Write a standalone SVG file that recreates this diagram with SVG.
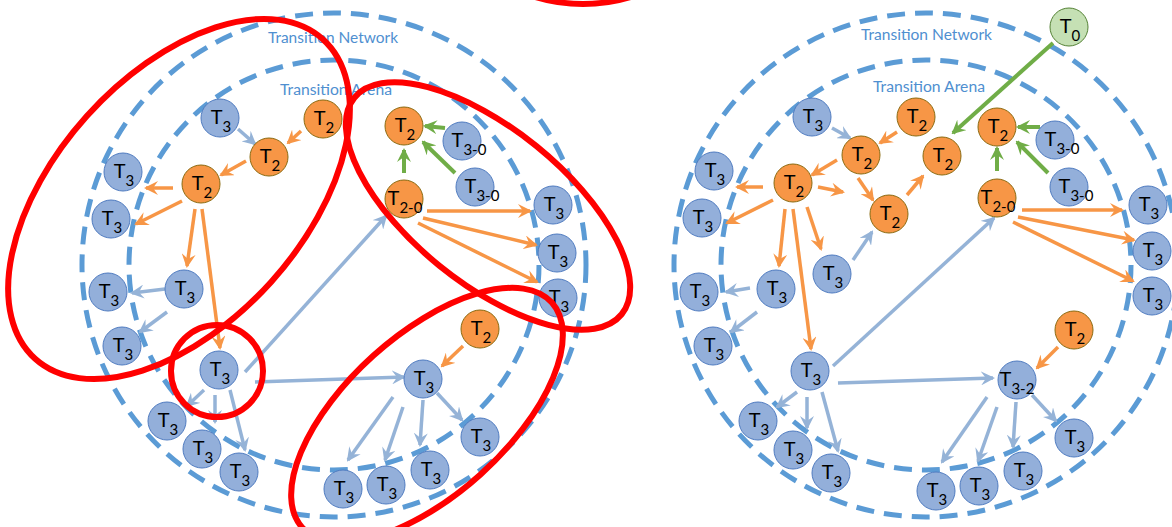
<svg xmlns="http://www.w3.org/2000/svg" width="1172" height="527" viewBox="0 0 1172 527">
<style>
.ring{fill:none;stroke:#5B9BD5;stroke-width:5;stroke-dasharray:18 10}
.cap{font-family:"Lato","Liberation Sans",sans-serif;font-size:14.5px;fill:#4F8FD0}
.nb{fill:#93AFDA;stroke:#4F7BC0;stroke-width:1}
.no{fill:#F79646;stroke:#8A6A10;stroke-width:1}
.ng{fill:#C5E0B4;stroke:#548235;stroke-width:1}
.lbl{font-family:"Lato","Liberation Sans",sans-serif;font-size:20px;fill:#000;text-anchor:middle}
.sub{font-size:15px}
.ao{stroke:#F79646;stroke-width:3.5;fill:none;marker-end:url(#mo)}
.ab{stroke:#95B3D7;stroke-width:3.5;fill:none;marker-end:url(#mb)}
.ag{stroke:#70AD47;stroke-width:4;fill:none;marker-end:url(#mg)}
.red{fill:none;stroke:#FF0000;stroke-width:6}
</style>
<defs>
<marker id="mo" viewBox="0 0 14 14" markerWidth="14" markerHeight="14" refX="12" refY="7" orient="auto" markerUnits="userSpaceOnUse"><path d="M0,0 L14,7 L0,14 L5,7 z" fill="#F79646"/></marker>
<marker id="mb" viewBox="0 0 14 14" markerWidth="14" markerHeight="14" refX="12" refY="7" orient="auto" markerUnits="userSpaceOnUse"><path d="M0,0 L14,7 L0,14 L5,7 z" fill="#95B3D7"/></marker>
<marker id="mg" viewBox="0 0 14 14" markerWidth="14" markerHeight="14" refX="12" refY="7" orient="auto" markerUnits="userSpaceOnUse"><path d="M0,0 L14,7 L0,14 L5,7 z" fill="#70AD47"/></marker>
</defs>
<rect width="1172" height="527" fill="#fff"/>
<g id="rings">
<circle class="ring" cx="334" cy="265" r="252"/>
<circle class="ring" cx="334" cy="265" r="205"/>
<circle class="ring" cx="926" cy="265" r="252"/>
<circle class="ring" cx="926" cy="265" r="205"/>
<text class="cap" x="268" y="43" textLength="130" lengthAdjust="spacingAndGlyphs">Transition Network</text>
<text class="cap" x="280" y="95" textLength="112" lengthAdjust="spacingAndGlyphs">Transition Arena</text>
<text class="cap" x="861" y="40" textLength="131" lengthAdjust="spacingAndGlyphs">Transition Network</text>
<text class="cap" x="873" y="92" textLength="112" lengthAdjust="spacingAndGlyphs">Transition Arena</text>
</g>
<g id="connectors">
<line class="ao" x1="301" y1="131" x2="288" y2="143"/>
<line class="ab" x1="238" y1="129" x2="255" y2="144"/>
<line class="ao" x1="246" y1="161" x2="221" y2="175"/>
<line class="ao" x1="173" y1="188" x2="146" y2="188"/>
<line class="ao" x1="182" y1="201" x2="136" y2="224"/>
<line class="ao" x1="195" y1="209" x2="187" y2="266"/>
<line class="ao" x1="202" y1="209" x2="220" y2="348"/>
<line class="ab" x1="165" y1="289" x2="132" y2="293"/>
<line class="ab" x1="167" y1="312" x2="140" y2="332"/>
<line class="ab" x1="204" y1="390" x2="187" y2="406"/>
<line class="ab" x1="215" y1="395" x2="215" y2="422"/>
<line class="ab" x1="230" y1="390" x2="245" y2="450"/>
<line class="ab" x1="245" y1="372" x2="386" y2="216"/>
<line class="ab" x1="255" y1="382" x2="404" y2="377"/>
<line class="ao" x1="463" y1="346" x2="442" y2="366"/>
<line class="ab" x1="393" y1="397" x2="348" y2="460"/>
<line class="ab" x1="403" y1="407" x2="385" y2="460"/>
<line class="ab" x1="423" y1="400" x2="420" y2="445"/>
<line class="ab" x1="437" y1="393" x2="462" y2="420"/>
<line class="ag" x1="445" y1="128" x2="425" y2="126"/>
<line class="ag" x1="455" y1="173" x2="423" y2="142"/>
<line class="ag" x1="404" y1="173" x2="404" y2="150"/>
<line class="ao" x1="427" y1="211" x2="530" y2="211"/>
<line class="ao" x1="423" y1="218" x2="536" y2="245"/>
<line class="ao" x1="418" y1="223" x2="537" y2="282"/>
<line class="ab" x1="832" y1="128" x2="850" y2="138"/>
<line class="ao" x1="897" y1="132" x2="880" y2="143"/>
<line class="ao" x1="837" y1="160" x2="812" y2="175"/>
<line class="ao" x1="763" y1="187" x2="737" y2="187"/>
<line class="ao" x1="773" y1="200" x2="727" y2="223"/>
<line class="ao" x1="818" y1="187" x2="843" y2="192"/>
<line class="ao" x1="858" y1="178" x2="873" y2="200"/>
<line class="ao" x1="907" y1="195" x2="923" y2="176"/>
<line class="ag" x1="1053" y1="43" x2="953" y2="133"/>
<line class="ag" x1="1040" y1="127" x2="1018" y2="127"/>
<line class="ag" x1="1048" y1="173" x2="1017" y2="142"/>
<line class="ag" x1="997" y1="171" x2="997" y2="148"/>
<line class="ao" x1="1022" y1="210" x2="1122" y2="210"/>
<line class="ao" x1="1018" y1="217" x2="1134" y2="240"/>
<line class="ao" x1="1013" y1="222" x2="1133" y2="281"/>
<line class="ao" x1="785" y1="209" x2="779" y2="266"/>
<line class="ao" x1="793" y1="209" x2="811" y2="349"/>
<line class="ao" x1="807" y1="207" x2="821" y2="249"/>
<line class="ab" x1="853" y1="260" x2="872" y2="232"/>
<line class="ab" x1="750" y1="288" x2="726" y2="292"/>
<line class="ab" x1="757" y1="312" x2="731" y2="332"/>
<line class="ab" x1="833" y1="366" x2="994" y2="218"/>
<line class="ab" x1="838" y1="383" x2="993" y2="378"/>
<line class="ab" x1="797" y1="392" x2="777" y2="407"/>
<line class="ab" x1="807" y1="397" x2="807" y2="428"/>
<line class="ab" x1="822" y1="392" x2="838" y2="451"/>
<line class="ao" x1="1058" y1="347" x2="1037" y2="368"/>
<line class="ab" x1="987" y1="397" x2="942" y2="462"/>
<line class="ab" x1="997" y1="407" x2="978" y2="461"/>
<line class="ab" x1="1016" y1="402" x2="1013" y2="447"/>
<line class="ab" x1="1032" y1="395" x2="1056" y2="421"/>
</g>
<g id="L1"><circle class="nb" cx="220" cy="118" r="19"/><text class="lbl" x="221" y="124">T<tspan class="sub" dy="8">3</tspan></text></g>
<g id="L2"><circle class="no" cx="269" cy="157" r="19"/><text class="lbl" x="270" y="163">T<tspan class="sub" dy="8">2</tspan></text></g>
<g id="L3"><circle class="no" cx="201" cy="184" r="19"/><text class="lbl" x="202" y="190">T<tspan class="sub" dy="8">2</tspan></text></g>
<g id="L4"><circle class="nb" cx="123" cy="172" r="19"/><text class="lbl" x="124" y="178">T<tspan class="sub" dy="8">3</tspan></text></g>
<g id="L5"><circle class="nb" cx="111" cy="219" r="19"/><text class="lbl" x="112" y="225">T<tspan class="sub" dy="8">3</tspan></text></g>
<g id="L6"><circle class="no" cx="323" cy="119" r="19"/><text class="lbl" x="324" y="125">T<tspan class="sub" dy="8">2</tspan></text></g>
<g id="L7"><circle class="no" cx="404" cy="126" r="19"/><text class="lbl" x="405" y="132">T<tspan class="sub" dy="8">2</tspan></text></g>
<g id="L8"><circle class="nb" cx="462" cy="141" r="19"/><text class="lbl" x="469" y="147">T<tspan class="sub" dy="8">3-0</tspan></text></g>
<g id="L9"><circle class="nb" cx="475" cy="187" r="19"/><text class="lbl" x="482" y="193">T<tspan class="sub" dy="8">3-0</tspan></text></g>
<g id="L10"><circle class="no" cx="404" cy="199" r="19"/><text class="lbl" x="405" y="205">T<tspan class="sub" dy="8">2-0</tspan></text></g>
<g id="L11"><circle class="nb" cx="553" cy="205" r="19"/><text class="lbl" x="554" y="211">T<tspan class="sub" dy="8">3</tspan></text></g>
<g id="L12"><circle class="nb" cx="557" cy="253" r="19"/><text class="lbl" x="558" y="259">T<tspan class="sub" dy="8">3</tspan></text></g>
<g id="L13"><circle class="nb" cx="558" cy="298" r="19"/><text class="lbl" x="559" y="304">T<tspan class="sub" dy="8">3</tspan></text></g>
<g id="L14"><circle class="nb" cx="184" cy="289" r="19"/><text class="lbl" x="185" y="295">T<tspan class="sub" dy="8">3</tspan></text></g>
<g id="L15"><circle class="nb" cx="108" cy="292" r="19"/><text class="lbl" x="109" y="298">T<tspan class="sub" dy="8">3</tspan></text></g>
<g id="L16"><circle class="nb" cx="122" cy="346" r="19"/><text class="lbl" x="123" y="352">T<tspan class="sub" dy="8">3</tspan></text></g>
<g id="L17"><circle class="nb" cx="219" cy="370" r="19"/><text class="lbl" x="220" y="376">T<tspan class="sub" dy="8">3</tspan></text></g>
<g id="L18"><circle class="nb" cx="167" cy="421" r="19"/><text class="lbl" x="168" y="427">T<tspan class="sub" dy="8">3</tspan></text></g>
<g id="L19"><circle class="nb" cx="202" cy="449" r="19"/><text class="lbl" x="203" y="455">T<tspan class="sub" dy="8">3</tspan></text></g>
<g id="L20"><circle class="nb" cx="239" cy="472" r="19"/><text class="lbl" x="240" y="478">T<tspan class="sub" dy="8">3</tspan></text></g>
<g id="L21"><circle class="no" cx="480" cy="329" r="19"/><text class="lbl" x="481" y="335">T<tspan class="sub" dy="8">2</tspan></text></g>
<g id="L22"><circle class="nb" cx="423" cy="379" r="19"/><text class="lbl" x="424" y="385">T<tspan class="sub" dy="8">3</tspan></text></g>
<g id="L23"><circle class="nb" cx="480" cy="437" r="19"/><text class="lbl" x="481" y="443">T<tspan class="sub" dy="8">3</tspan></text></g>
<g id="L24"><circle class="nb" cx="430" cy="470" r="19"/><text class="lbl" x="431" y="476">T<tspan class="sub" dy="8">3</tspan></text></g>
<g id="L25"><circle class="nb" cx="386" cy="485" r="19"/><text class="lbl" x="387" y="491">T<tspan class="sub" dy="8">3</tspan></text></g>
<g id="L26"><circle class="nb" cx="343" cy="489" r="19"/><text class="lbl" x="344" y="495">T<tspan class="sub" dy="8">3</tspan></text></g>
<g id="R1"><circle class="nb" cx="812" cy="117" r="19"/><text class="lbl" x="813" y="123">T<tspan class="sub" dy="8">3</tspan></text></g>
<g id="R2"><circle class="no" cx="861" cy="155" r="19"/><text class="lbl" x="862" y="161">T<tspan class="sub" dy="8">2</tspan></text></g>
<g id="R3"><circle class="no" cx="793" cy="183" r="19"/><text class="lbl" x="794" y="189">T<tspan class="sub" dy="8">2</tspan></text></g>
<g id="R4"><circle class="nb" cx="714" cy="171" r="19"/><text class="lbl" x="715" y="177">T<tspan class="sub" dy="8">3</tspan></text></g>
<g id="R5"><circle class="nb" cx="702" cy="218" r="19"/><text class="lbl" x="703" y="224">T<tspan class="sub" dy="8">3</tspan></text></g>
<g id="R6"><circle class="no" cx="916" cy="117" r="19"/><text class="lbl" x="917" y="123">T<tspan class="sub" dy="8">2</tspan></text></g>
<g id="R7"><circle class="no" cx="942" cy="156" r="19"/><text class="lbl" x="943" y="162">T<tspan class="sub" dy="8">2</tspan></text></g>
<g id="R8"><circle class="no" cx="889" cy="214" r="19"/><text class="lbl" x="890" y="220">T<tspan class="sub" dy="8">2</tspan></text></g>
<g id="R9"><circle class="no" cx="997" cy="127" r="19"/><text class="lbl" x="998" y="133">T<tspan class="sub" dy="8">2</tspan></text></g>
<g id="R10"><circle class="nb" cx="1055" cy="140" r="19"/><text class="lbl" x="1062" y="146">T<tspan class="sub" dy="8">3-0</tspan></text></g>
<g id="R11"><circle class="nb" cx="1069" cy="187" r="19"/><text class="lbl" x="1076" y="193">T<tspan class="sub" dy="8">3-0</tspan></text></g>
<g id="R12"><circle class="no" cx="997" cy="198" r="19"/><text class="lbl" x="998" y="204">T<tspan class="sub" dy="8">2-0</tspan></text></g>
<g id="R13"><circle class="ng" cx="1069" cy="27" r="19"/><text class="lbl" x="1070" y="33">T<tspan class="sub" dy="8">0</tspan></text></g>
<g id="R14"><circle class="nb" cx="1148" cy="205" r="19"/><text class="lbl" x="1149" y="211">T<tspan class="sub" dy="8">3</tspan></text></g>
<g id="R15"><circle class="nb" cx="1152" cy="251" r="19"/><text class="lbl" x="1153" y="257">T<tspan class="sub" dy="8">3</tspan></text></g>
<g id="R16"><circle class="nb" cx="1152" cy="296" r="19"/><text class="lbl" x="1153" y="302">T<tspan class="sub" dy="8">3</tspan></text></g>
<g id="R17"><circle class="nb" cx="832" cy="274" r="19"/><text class="lbl" x="833" y="280">T<tspan class="sub" dy="8">3</tspan></text></g>
<g id="R18"><circle class="nb" cx="776" cy="289" r="19"/><text class="lbl" x="777" y="295">T<tspan class="sub" dy="8">3</tspan></text></g>
<g id="R19"><circle class="nb" cx="699" cy="292" r="19"/><text class="lbl" x="700" y="298">T<tspan class="sub" dy="8">3</tspan></text></g>
<g id="R20"><circle class="nb" cx="713" cy="346" r="19"/><text class="lbl" x="714" y="352">T<tspan class="sub" dy="8">3</tspan></text></g>
<g id="R21"><circle class="nb" cx="810" cy="371" r="19"/><text class="lbl" x="811" y="377">T<tspan class="sub" dy="8">3</tspan></text></g>
<g id="R22"><circle class="nb" cx="758" cy="421" r="19"/><text class="lbl" x="759" y="427">T<tspan class="sub" dy="8">3</tspan></text></g>
<g id="R23"><circle class="nb" cx="793" cy="450" r="19"/><text class="lbl" x="794" y="456">T<tspan class="sub" dy="8">3</tspan></text></g>
<g id="R24"><circle class="nb" cx="831" cy="473" r="19"/><text class="lbl" x="832" y="479">T<tspan class="sub" dy="8">3</tspan></text></g>
<g id="R25"><circle class="no" cx="1074" cy="330" r="19"/><text class="lbl" x="1075" y="336">T<tspan class="sub" dy="8">2</tspan></text></g>
<g id="R26"><circle class="nb" cx="1017" cy="380" r="19"/><text class="lbl" x="1017" y="386">T<tspan class="sub" dy="8">3-2</tspan></text></g>
<g id="R27"><circle class="nb" cx="1074" cy="438" r="19"/><text class="lbl" x="1075" y="444">T<tspan class="sub" dy="8">3</tspan></text></g>
<g id="R28"><circle class="nb" cx="1023" cy="471" r="19"/><text class="lbl" x="1024" y="477">T<tspan class="sub" dy="8">3</tspan></text></g>
<g id="R29"><circle class="nb" cx="979" cy="486" r="19"/><text class="lbl" x="980" y="492">T<tspan class="sub" dy="8">3</tspan></text></g>
<g id="R30"><circle class="nb" cx="936" cy="491" r="19"/><text class="lbl" x="937" y="497">T<tspan class="sub" dy="8">3</tspan></text></g>
<g id="highlights">
<ellipse class="red" cx="179" cy="199" rx="215" ry="124" transform="rotate(-48 179 199)"/>
<ellipse class="red" cx="488" cy="206" rx="172" ry="77" transform="rotate(39 488 206)"/>
<circle class="red" cx="217" cy="371" r="46"/>
<ellipse class="red" cx="427" cy="415" rx="168" ry="80" transform="rotate(-42 427 415)"/>
<ellipse class="red" cx="583" cy="-100" rx="132" ry="104"/>
</g>
</svg>
